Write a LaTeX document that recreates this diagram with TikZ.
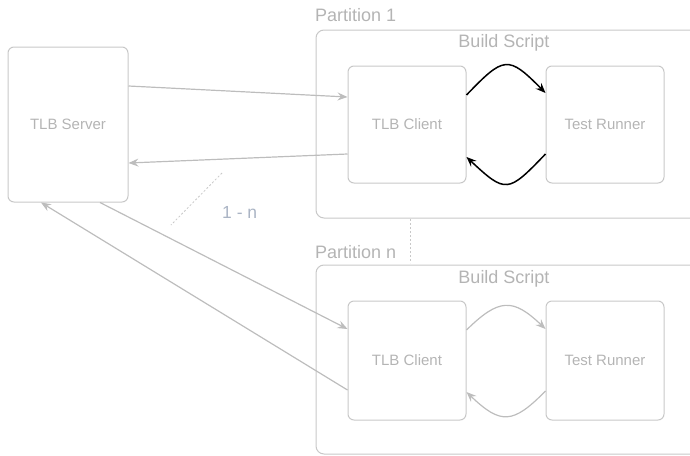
\documentclass[tikz,border=0pt]{standalone}
\usepackage{fontspec}
\setmainfont{Liberation Sans}
\usetikzlibrary{arrows.meta}
\definecolor{boxline}{HTML}{C8C8C8}
\definecolor{linkgray}{HTML}{BDBDBD}
\definecolor{labelgray}{HTML}{B4B4B4}
\definecolor{countblue}{HTML}{AAB4C4}
\tikzset{
  unit/.style={draw=boxline, line width=1pt, rounded corners=6pt, inner sep=0pt,
    text=labelgray, font=\fontsize{15}{18}\selectfont},
  frame/.style={draw=boxline, line width=1pt, rounded corners=8pt},
  caption/.style={text=labelgray, inner sep=0pt, font=\fontsize{18}{21}\selectfont},
  link/.style={draw=linkgray, line width=1.2pt,
    -{Stealth[length=10pt, width=8pt, inset=3.5pt]}},
  cycle/.style={draw=black, line width=1.5pt,
    -{Stealth[length=10pt, width=8pt, inset=3.5pt]}},
  cyclegray/.style={draw=linkgray, line width=1.2pt,
    -{Stealth[length=10pt, width=8pt, inset=3.5pt]}},
}
\begin{document}
\begin{tikzpicture}[x=1pt, y=-1pt]
  \clip (0,0) rectangle (690,455);

  % partition frames
  \draw[frame] (316,30) rectangle (705,218);
  \draw[frame] (316,265) rectangle (705,454);
  \node[caption, anchor=base west] (p1) at (315,21) {Partition 1};
  \node[caption, anchor=base west] (pn) at (315,258) {Partition n};
  \node[caption, anchor=base] (bs1) at (504,47) {Build Script};
  \node[caption, anchor=base] (bsn) at (504,283) {Build Script};

  % link between partitions
  \coordinate (d1) at (410,219);
  \coordinate (d2) at (410,263);
  \draw[boxline, line width=0.8pt, dash pattern=on 2pt off 2pt] (d1) -- (d2);

  % boxes
  \node[unit, minimum width=120pt, minimum height=155pt] (srv) at (68,124.5) {TLB Server};
  \node[unit, minimum width=118pt, minimum height=117pt] (c1) at (407,124.5) {TLB Client};
  \node[unit, minimum width=118pt, minimum height=117pt] (r1) at (605,124.5) {Test Runner};
  \node[unit, minimum width=118pt, minimum height=119pt] (cn) at (407,360.5) {TLB Client};
  \node[unit, minimum width=118pt, minimum height=119pt] (rn) at (605,360.5) {Test Runner};

  % server <-> clients
  \draw[link] (srv.east |- 0,86) -- (c1.west |- 0,97);
  \draw[link] (c1.west |- 0,154) -- (srv.east |- 0,163);
  \draw[link] (srv.south -| 100,0) -- (cn.west |- 0,329);
  \draw[link] (cn.west |- 0,390) -- (srv.south -| 41,0);

  % multiplicity marker
  \coordinate (m1) at (222,173);
  \coordinate (m2) at (171,225);
  \draw[boxline, line width=0.8pt, dash pattern=on 2pt off 2pt] (m1) -- (m2);
  \node[text=countblue, inner sep=0pt, anchor=base west,
    font=\fontsize{17.5}{20}\selectfont] (mult) at (222,218) {1 - n};

  % client <-> runner, partition 1
  \draw[cycle] (c1.east |- 0,95) .. controls (504,56) and (508,55) .. (r1.west |- 0,93);
  \draw[cycle] (r1.west |- 0,154) .. controls (508,193) and (506,194) .. (c1.east |- 0,157);

  % client <-> runner, partition n
  \draw[cyclegray] (cn.east |- 0,330) .. controls (499,298) and (513,298) .. (rn.west |- 0,329);
  \draw[cyclegray] (rn.west |- 0,391) .. controls (513,424) and (501,425) .. (cn.east |- 0,392);
\end{tikzpicture}
\end{document}
